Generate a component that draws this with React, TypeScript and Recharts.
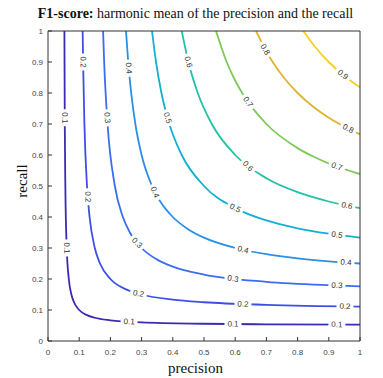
import React from 'react';
import { ComposedChart, Line, Scatter, XAxis, YAxis } from 'recharts';

// contour levels of the F1 score and their colours (parula-like)
const levels = [0.1, 0.2, 0.3, 0.4, 0.5, 0.6, 0.7, 0.8, 0.9];
const COLORS = ['#3b2bb3', '#3f4fe6', '#3b6df3', '#2a8fe6', '#14b0d3', '#22c2a6', '#80c85a', '#dfb430', '#f6d02a'];

// points [precision, recall]
const c01 = [[0.0526, 1], [0.0538, 0.7], [0.0556, 0.5], [0.06, 0.3], [0.0667, 0.2], [0.075, 0.15], [0.0833, 0.125], [0.1, 0.1], [0.125, 0.0833], [0.15, 0.075], [0.2, 0.0667], [0.3, 0.06], [0.5, 0.0556], [0.7, 0.0538], [1, 0.0526]];
const c02 = [[0.1111, 1], [0.1125, 0.9], [0.1167, 0.7], [0.125, 0.5], [0.1333, 0.4], [0.15, 0.3], [0.1667, 0.25], [0.2, 0.2], [0.25, 0.1667], [0.3, 0.15], [0.4, 0.1333], [0.5, 0.125], [0.7, 0.1167], [1, 0.1111]];
const c03 = [[0.1765, 1], [0.18, 0.9], [0.1909, 0.7], [0.2143, 0.5], [0.24, 0.4], [0.2625, 0.35], [0.3, 0.3], [0.35, 0.2625], [0.4, 0.24], [0.5, 0.2143], [0.7, 0.1909], [0.9, 0.18], [1, 0.1765]];
const c04 = [[0.25, 1], [0.2571, 0.9], [0.2667, 0.8], [0.28, 0.7], [0.3, 0.6], [0.3333, 0.5], [0.36, 0.45], [0.4, 0.4], [0.45, 0.36], [0.5, 0.3333], [0.6, 0.3], [0.7, 0.28], [0.8, 0.2667], [0.9, 0.2571], [1, 0.25]];
const c05 = [[0.3333, 1], [0.3462, 0.9], [0.3636, 0.8], [0.3889, 0.7], [0.4286, 0.6], [0.5, 0.5], [0.6, 0.4286], [0.7, 0.3889], [0.8, 0.3636], [0.9, 0.3462], [1, 0.3333]];
const c06 = [[0.4286, 1], [0.45, 0.9], [0.48, 0.8], [0.525, 0.7], [0.6, 0.6], [0.7, 0.525], [0.8, 0.48], [0.9, 0.45], [1, 0.4286]];
const c07 = [[0.5385, 1], [0.5727, 0.9], [0.595, 0.85], [0.6222, 0.8], [0.7, 0.7], [0.8, 0.6222], [0.85, 0.595], [0.9, 0.5727], [1, 0.5385]];
const c08 = [[0.6667, 1], [0.72, 0.9], [0.7556, 0.85], [0.8, 0.8], [0.85, 0.7556], [0.9, 0.72], [1, 0.6667]];
const c09 = [[0.8182, 1], [0.855, 0.95], [0.9, 0.9], [0.95, 0.855], [1, 0.8182]];
const contours = [c01, c02, c03, c04, c05, c06, c07, c08, c09];

// inline contour labels [level index, precision, recall]
const labelSpots = [
  [0, 0.0537, 0.72], [0, 0.06, 0.3], [0, 0.26, 0.062], [0, 0.593, 0.0546], [0, 0.926, 0.0528],
  [1, 0.1125, 0.9], [1, 0.1274, 0.465], [1, 0.29, 0.1526], [1, 0.625, 0.119], [1, 0.952, 0.1117],
  [2, 0.1895, 0.72], [2, 0.285, 0.3167], [2, 0.593, 0.2008], [2, 0.926, 0.179],
  [3, 0.2588, 0.88], [3, 0.343, 0.48], [3, 0.625, 0.294], [3, 0.955, 0.2533],
  [4, 0.383, 0.72], [4, 0.6, 0.4286], [4, 0.926, 0.3425],
  [5, 0.45, 0.9], [5, 0.641, 0.564], [5, 0.958, 0.4368],
  [6, 0.641, 0.771], [6, 0.926, 0.5626],
  [7, 0.696, 0.9405], [7, 0.962, 0.6847],
  [8, 0.945, 0.859],
];

const ticks = [0, 0.1, 0.2, 0.3, 0.4, 0.5, 0.6, 0.7, 0.8, 0.9, 1];

const PLOT_W = 312;
const PLOT_H = 310;

const series = contours.map((c) => c.map(([p, r]) => ({ p, r })));
const labelData = labelSpots.map(([k, p, r]) => ({ k, p, r }));

const fmt = (v: number) => (v === 0 ? '0' : v === 1 ? '1' : String(v));

const tickStyle = { fontSize: 8, fill: '#444', fontFamily: '"Liberation Sans", Arial, sans-serif' };

// rotated level text sitting in a white gap on the curve
const ContourLabel = (props: any) => {
  const { cx, cy, payload } = props;
  if (cx == null || cy == null) return null;
  const pts = contours[payload.k];
  let best = 0;
  let bestD = Infinity;
  pts.forEach(([p, r], i) => {
    const d = Math.hypot((p - payload.p) * PLOT_W, (r - payload.r) * PLOT_H);
    if (d < bestD) {
      bestD = d;
      best = i;
    }
  });
  const a = pts[Math.max(0, best - 1)];
  const b = pts[Math.min(pts.length - 1, best + 1)];
  const ang = (Math.atan2(-(b[1] - a[1]) * PLOT_H, (b[0] - a[0]) * PLOT_W) * 180) / Math.PI;
  return (
    <g transform={`translate(${cx},${cy}) rotate(${ang})`}>
      <rect x={-8.5} y={-4.5} width={17} height={9} fill="#fff" />
      <text x={0} y={0} textAnchor="middle" dominantBaseline="central" fontSize={8} fill="#333"
        fontFamily='"Liberation Sans", Arial, sans-serif'>
        {String(levels[payload.k])}
      </text>
    </g>
  );
};

export default function App() {
  return (
    <div style={{ position: 'relative', width: 375, height: 370 }}>
      <div style={{ position: 'absolute', left: 0, top: -2, width: 375, textAlign: 'center', whiteSpace: 'nowrap',
        fontFamily: '"Liberation Serif", serif', fontSize: 14, color: '#111' }}>
        <b>F1-score:</b> harmonic mean of the precision and the recall
      </div>
      <div style={{ position: 'absolute', left: 0, top: 352, width: 375, textAlign: 'center',
        fontFamily: '"Liberation Serif", serif', fontSize: 15, color: '#111' }}>
        precision
      </div>
      <div style={{ position: 'absolute', left: 14, top: 173, transform: 'translate(-50%, -50%) rotate(-90deg)',
        fontFamily: '"Liberation Serif", serif', fontSize: 15, color: '#111' }}>
        recall
      </div>
      <div style={{ position: 'absolute', left: 0, top: 0 }}>
        <ComposedChart width={375} height={370} margin={{ top: 22, right: 22, bottom: 17, left: 10 }}>
          <XAxis dataKey="p" type="number" domain={[0, 1]} ticks={ticks} tickFormatter={fmt} height={20}
            tickSize={-4} tickMargin={12} stroke="#333" tick={tickStyle} allowDataOverflow />
          <XAxis xAxisId="top" orientation="top" type="number" domain={[0, 1]} ticks={ticks} height={1}
            tickSize={-4} stroke="#333" tick={false} allowDataOverflow />
          <YAxis dataKey="r" type="number" domain={[0, 1]} ticks={ticks} tickFormatter={fmt} width={30}
            tickSize={-4} tickMargin={9} stroke="#333" tick={tickStyle} allowDataOverflow />
          <YAxis yAxisId="right" orientation="right" type="number" domain={[0, 1]} ticks={ticks} width={1}
            tickSize={-4} stroke="#333" tick={false} allowDataOverflow />
          {series.map((d, i) => (
            <Line key={`c-${i}`} data={d} dataKey="r" type="monotone" dot={false} activeDot={false}
              stroke={COLORS[i]} strokeWidth={1.8} isAnimationActive={false} />
          ))}
          <Scatter data={labelData} dataKey="r" shape={<ContourLabel />} isAnimationActive={false} />
        </ComposedChart>
      </div>
    </div>
  );
}
